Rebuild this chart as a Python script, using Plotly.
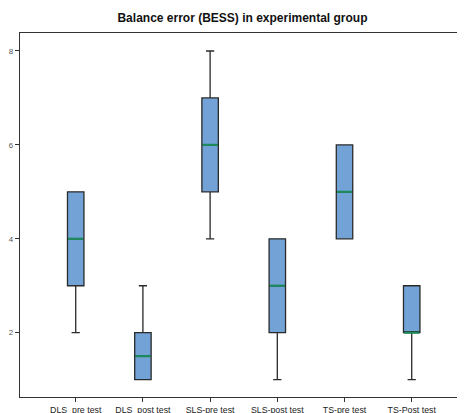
import plotly.graph_objects as go

categories = ["DLS_pre test", "DLS_post test", "SLS-pre test", "SLS-post test", "TS-pre test", "TS-Post test"]
lower_whisker = [2, 1, 4, 1, 4, 1]
q1_values = [3, 1, 5, 2, 4, 2]
medians = [4, 1.5, 6, 3, 5, 2]
q3_values = [5, 2, 7, 4, 6, 3]
upper_whisker = [5, 3, 8, 4, 6, 3]
y_ticks = [2, 4, 6, 8]

positions = list(range(len(categories)))
box_w = 0.245

fig = go.Figure()
fig.add_trace(go.Box(
    x=positions,
    q1=q1_values, median=medians, q3=q3_values,
    lowerfence=lower_whisker, upperfence=upper_whisker,
    width=box_w, whiskerwidth=0.5,
    fillcolor="#72a2d6",
    line=dict(color="#2a2a2a", width=1.3),
    boxpoints=False, hoverinfo="skip", showlegend=False,
))

mx, my = [], []
for p, m in zip(positions, medians):
    mx += [p - box_w / 2 + 0.01, p + box_w / 2 - 0.01, None]
    my += [m, m, None]
fig.add_trace(go.Scatter(x=mx, y=my, mode="lines",
                         line=dict(color="#1d8a5c", width=2.2),
                         hoverinfo="skip", showlegend=False))

fig.update_layout(
    width=457, height=405,
    margin=dict(l=12, r=0, t=25, b=16),
    paper_bgcolor="white", plot_bgcolor="white",
    title=dict(text="<b>Balance error (BESS) in experimental group</b>",
               x=0.5, xanchor="center", xref="paper", y=0.9753, yanchor="middle",
               font=dict(family="Liberation Sans, Arial", size=12, color="#111")),
    font=dict(family="Liberation Sans, Arial", size=8, color="#333"),
)
fig.update_xaxes(
    range=[-0.829, 5.793],
    tickvals=positions, ticktext=categories,
    showgrid=False, zeroline=False, automargin=False,
    showline=True, linecolor="#333", linewidth=1.2, mirror=True,
    ticks="outside", ticklen=4, tickcolor="#333",
    tickfont=dict(size=8.8, color="#222"),
)
fig.update_yaxes(
    range=[0.63, 8.383],
    tickvals=y_ticks,
    showgrid=False, zeroline=False, automargin=False,
    showline=True, linecolor="#333", linewidth=1.2,
    ticks="outside", ticklen=4, tickcolor="#333",
    tickfont=dict(size=8, color="#555"),
)

fig.write_html("out.html")
